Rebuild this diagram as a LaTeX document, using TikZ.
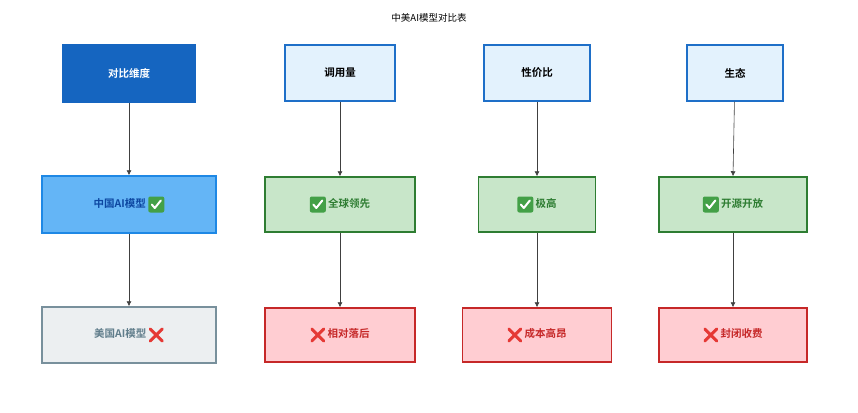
\documentclass[tikz,border=0pt]{standalone}
\usepackage{fontspec}
\setmainfont{Noto Sans CJK SC}[BoldFont={Noto Sans CJK SC Bold}]
\definecolor{hdr}{HTML}{1565C0}
\definecolor{lb}{HTML}{E3F2FD}
\definecolor{bb}{HTML}{1E6FC8}
\definecolor{cnf}{HTML}{64B5F6}
\definecolor{cnb}{HTML}{1E88E5}
\definecolor{cnt}{HTML}{0D47A1}
\definecolor{gf}{HTML}{C8E6C9}
\definecolor{gb}{HTML}{2E7D32}
\definecolor{grf}{HTML}{ECEFF1}
\definecolor{grb}{HTML}{78909C}
\definecolor{grt}{HTML}{607D8B}
\definecolor{rf}{HTML}{FFCDD2}
\definecolor{rb}{HTML}{C62828}
\definecolor{ck}{HTML}{43A047}
\definecolor{xr}{HTML}{E53935}
\newcommand\mychk{\tikz[baseline=-0.5ex,x=1pt,y=1pt]{\fill[ck,rounded corners=2pt](-8,-8) rectangle (8,8);\draw[white,line width=2pt,line cap=round,line join=round](-4.5,0)--(-1.5,-3.5)--(4.5,4);}}
\newcommand\myx{\tikz[baseline=-0.5ex,x=1pt,y=1pt]{\draw[xr,line width=3pt,line cap=round](-6,-6)--(6,6)(-6,6)--(6,-6);}}
\begin{document}
\begin{tikzpicture}[x=1pt,y=-1pt,
  box/.style={draw,line width=1.5pt,font=\bfseries\fontsize{10.5}{12}\selectfont,inner sep=0},
  hd/.style={box,fill=lb,draw=bb,text=black},
  g/.style={box,fill=gf,draw=gb,text=gb},
  r/.style={box,fill=rf,draw=rb,text=rb},
  ar/.style={draw=black!75,line width=0.6pt,-{Latex[length=5pt,width=5pt]}}]
\usetikzlibrary{arrows.meta}
\useasboundingbox (0,0) rectangle (858,412);
\node[font=\fontsize{9.5}{11}\selectfont] (t) at (429,18) {中美AI模型对比表};
\node[box,fill=hdr,draw=hdr,text=white,minimum width=132pt,minimum height=57pt] (h0) at (129,73.5) {对比维度};
\node[hd,minimum width=110pt,minimum height=56pt] (h1) at (340,73) {调用量};
\node[hd,minimum width=106pt,minimum height=56pt] (h2) at (537,73) {性价比};
\node[hd,minimum width=96pt,minimum height=56pt] (h3) at (735,73) {生态};
\node[box,fill=cnf,draw=cnb,text=cnt,minimum width=174pt,minimum height=57pt] (c0) at (129,204.5) {中国AI模型 \mychk};
\node[g,minimum width=150pt,minimum height=55pt] (c1) at (340,204.5) {\mychk\ 全球领先};
\node[g,minimum width=117pt,minimum height=55pt] (c2) at (537,204.5) {\mychk\ 极高};
\node[g,minimum width=148pt,minimum height=55pt] (c3) at (733,204.5) {\mychk\ 开源开放};
\node[box,fill=grf,draw=grb,text=grt,minimum width=174pt,minimum height=56pt] (u0) at (129,335) {美国AI模型 \myx};
\node[r,minimum width=150pt,minimum height=54pt] (u1) at (340,335) {\myx\ 相对落后};
\node[r,minimum width=149pt,minimum height=54pt] (u2) at (537,335) {\myx\ 成本高昂};
\node[r,minimum width=148pt,minimum height=54pt] (u3) at (733,335) {\myx\ 封闭收费};
\foreach \i in {0,1,2,3}{\draw[ar] (h\i) -- (c\i|-c\i.north); \draw[ar] (c\i) -- (u\i|-u\i.north);}
\end{tikzpicture}
\end{document}
